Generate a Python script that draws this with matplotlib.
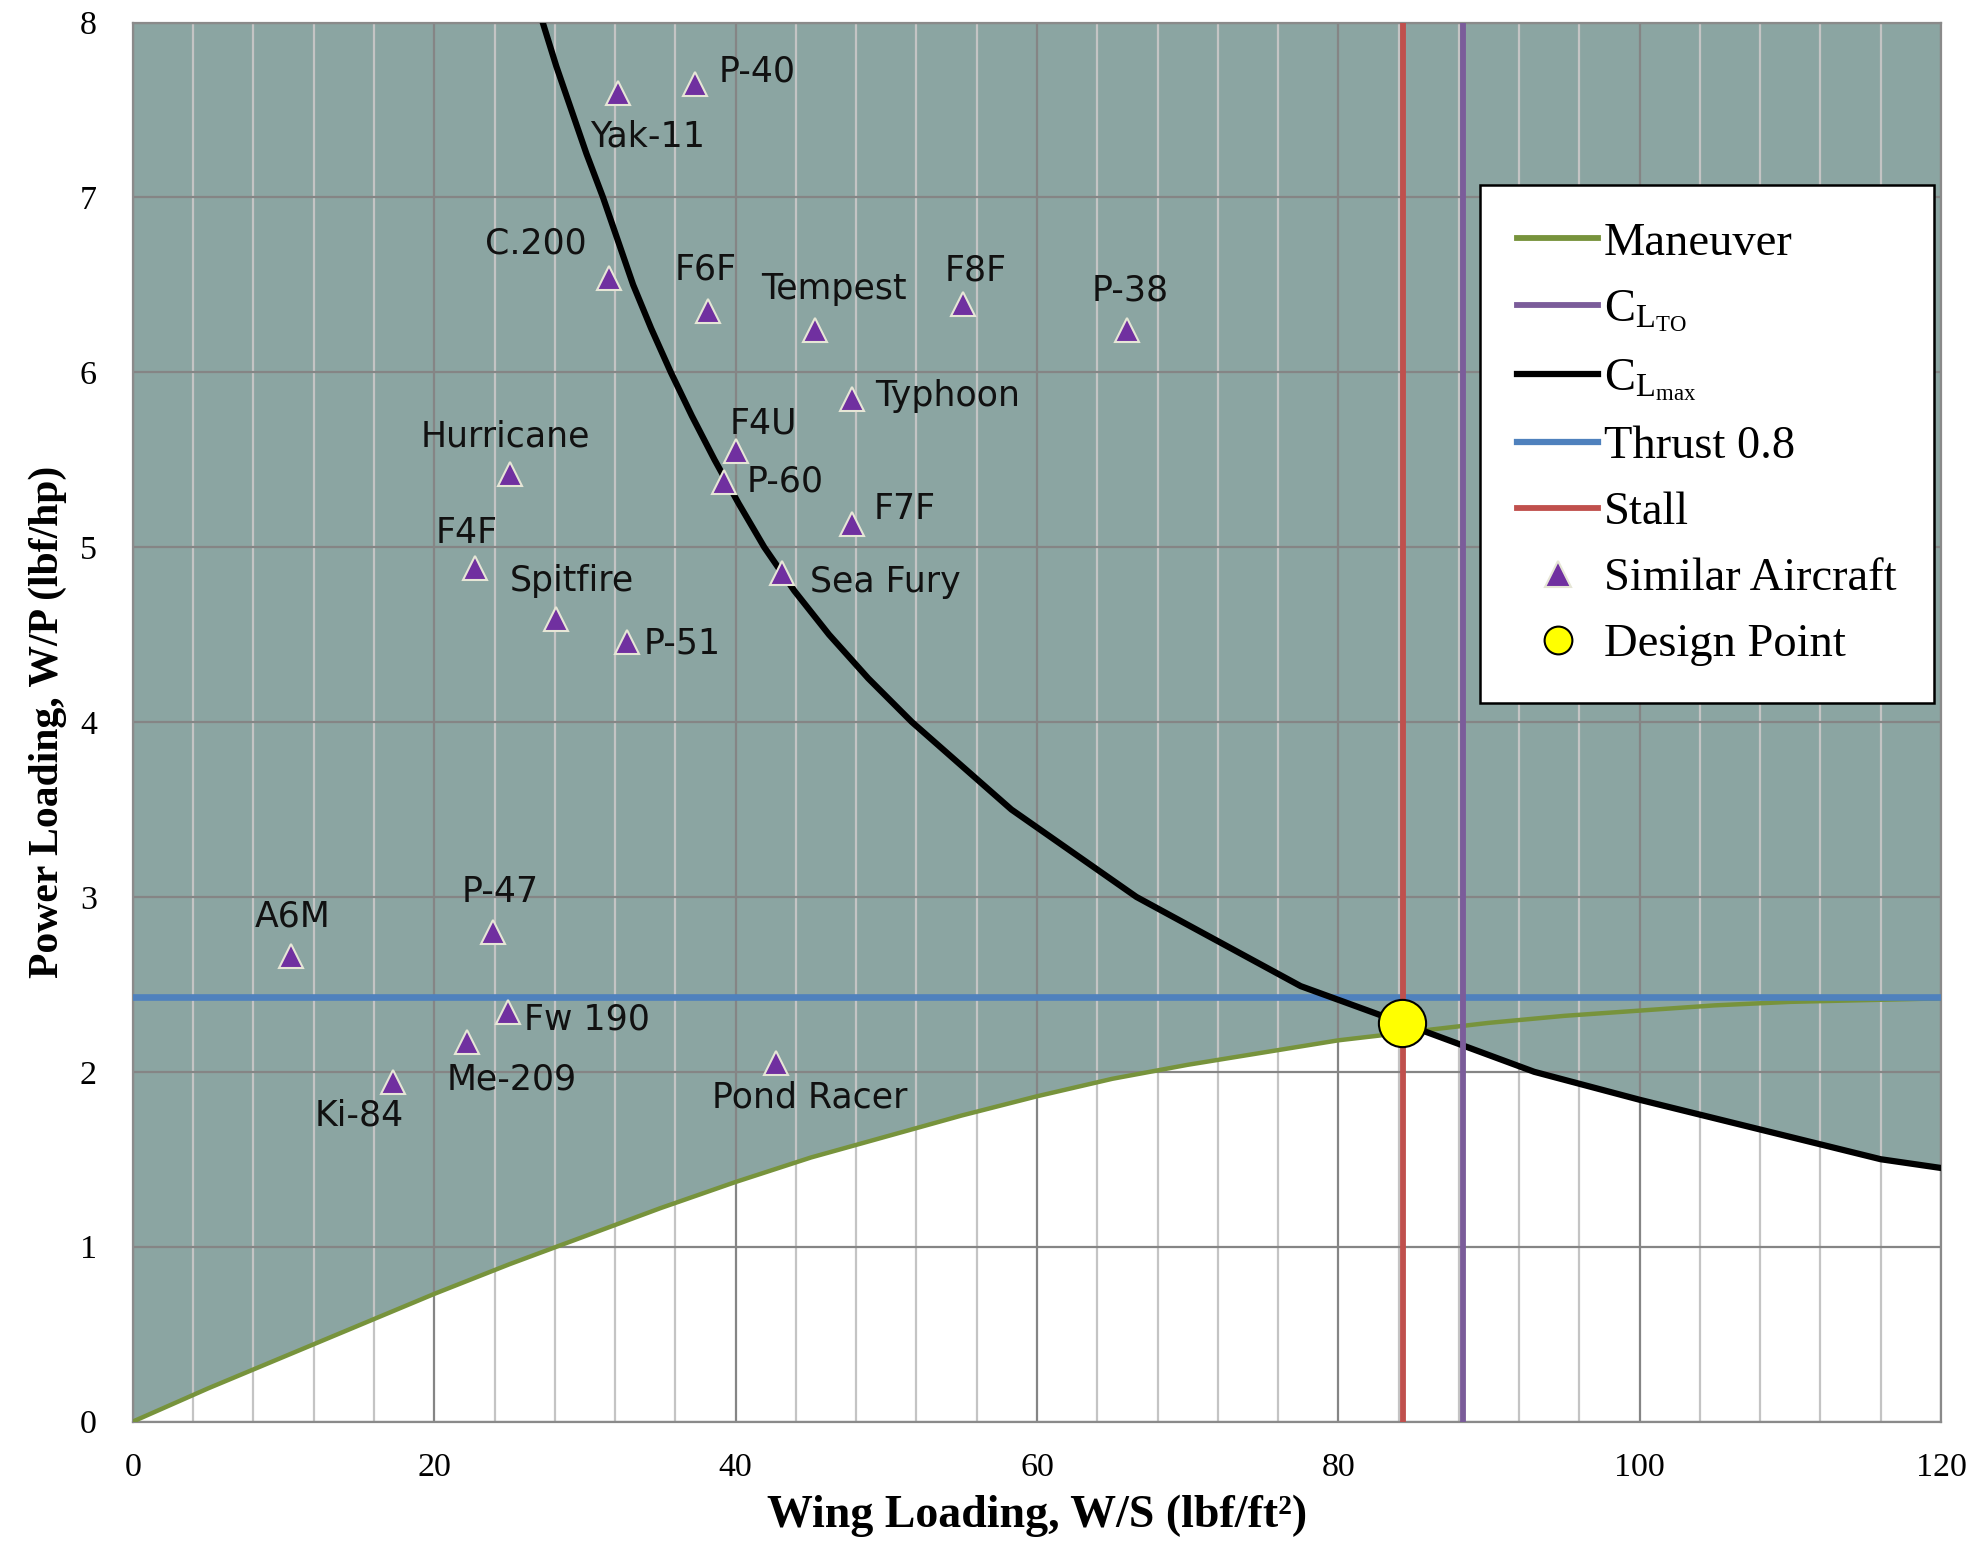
import numpy as np
from matplotlib import pyplot as plt
from matplotlib.lines import Line2D

plt.rcParams['font.family'] = ['Liberation Serif', 'DejaVu Serif']
plt.rcParams['mathtext.fontset'] = 'custom'
plt.rcParams['mathtext.rm'] = 'Liberation Serif'
plt.rcParams['mathtext.it'] = 'Liberation Serif:italic'
plt.rcParams['mathtext.bf'] = 'Liberation Serif:bold'

# constraint curves
man_ws = [0, 5, 10, 15, 20, 25, 30, 35, 40, 45, 50, 55, 60, 65, 70, 75, 80, 85, 90, 95, 100, 105, 110, 115, 120]
man_wp = [0, 0.19, 0.37, 0.55, 0.73, 0.90, 1.06, 1.22, 1.37, 1.51, 1.63, 1.75, 1.86, 1.96, 2.04, 2.11, 2.18,
          2.23, 2.28, 2.32, 2.35, 2.38, 2.40, 2.41, 2.42]

clmax_ws = [27.2, 28.1, 29.1, 30.1, 31.2, 32.2, 33.2, 34.4, 35.7, 37.1, 38.6, 40.2, 41.9, 43.9, 46.2, 48.8, 51.7,
            58.3, 66.6, 77.5, 84.2, 93.0, 100.0, 108.0, 116.0, 120.0]
clmax_wp = [8.0, 7.75, 7.5, 7.25, 7.0, 6.75, 6.5, 6.25, 6.0, 5.75, 5.5, 5.25, 5.0, 4.75, 4.5, 4.25, 4.0,
            3.5, 3.0, 2.49, 2.28, 2.0, 1.84, 1.67, 1.50, 1.45]

thrust_wp = 2.43
stall_ws = 84.3
clto_ws = 88.3

design_ws = 84.2
design_wp = 2.28

# similar aircraft
names = ["Yak-11", "P-40", "C.200", "F6F", "Tempest", "F8F", "P-38", "Typhoon", "F4U", "Hurricane", "P-60",
         "F7F", "F4F", "Sea Fury", "Spitfire", "P-51", "A6M", "P-47", "Fw 190", "Me-209", "Ki-84", "Pond Racer"]
ac_ws = [32.2, 37.3, 31.6, 38.2, 45.25, 55.1, 66.0, 47.7, 40.0, 25.0, 39.2,
         47.7, 22.7, 43.1, 28.1, 32.8, 10.5, 23.9, 24.9, 22.2, 17.25, 42.7]
ac_wp = [7.60, 7.65, 6.54, 6.35, 6.24, 6.39, 6.24, 5.85, 5.55, 5.42, 5.37,
         5.13, 4.88, 4.85, 4.59, 4.46, 2.66, 2.80, 2.34, 2.17, 1.94, 2.05]

# label offsets (points) from each marker
offsets = {"Yak-11": (21, -32), "P-40": (45, 9), "C.200": (-53, 25), "F6F": (-2, 30), "Tempest": (14, 30),
           "F8F": (9, 24), "P-38": (2, 29), "Typhoon": (69, 2), "F4U": (20, 20), "Hurricane": (-3, 27),
           "P-60": (44, 1), "F7F": (38, 11), "F4F": (-6, 25), "Sea Fury": (74, -6), "Spitfire": (11, 27),
           "P-51": (40, -1), "A6M": (1, 29), "P-47": (5, 29), "Fw 190": (57, -5), "Me-209": (32, -27),
           "Ki-84": (-24, -24), "Pond Racer": (24, -25)}

teal = '#8BA5A2'
c_man, c_clto, c_clmax, c_thr, c_stall = '#77933C', '#7B5C9A', 'black', '#4F81BD', '#C0504D'

fig, ax = plt.subplots(figsize=(19.69, 15.45), dpi=100)
fig.subplots_adjust(left=0.0675, right=0.9858, bottom=0.0799, top=0.9854)

# shaded region: above the lower of the two curves
xs = np.linspace(0, 120, 1201)
low = np.minimum(np.interp(xs, man_ws, man_wp), np.interp(xs, clmax_ws, clmax_wp, left=1e9))
ax.fill_between(xs, low, 8, color=teal, linewidth=0, zorder=0.2)

ax.plot(man_ws, man_wp, color=c_man, lw=3.2, zorder=3)
ax.plot([clto_ws, clto_ws], [0, 8], color=c_clto, lw=4.2, zorder=3.4)
ax.plot(clmax_ws, clmax_wp, color=c_clmax, lw=4.5, zorder=3.2, solid_joinstyle='round')
ax.plot([0, 120], [thrust_wp, thrust_wp], color=c_thr, lw=4.8, zorder=3.1)
ax.plot([stall_ws, stall_ws], [0, 8], color=c_stall, lw=4.2, zorder=3.3)
ax.plot(ac_ws, ac_wp, '^', ms=17, mfc='#7030A0', mec='#E6E6D6', mew=1.5, ls='none', zorder=4)
ax.plot([design_ws], [design_wp], 'o', ms=34, mfc='#FFFF00', mec='black', mew=1.5, ls='none', zorder=5)

for n, x, y in zip(names, ac_ws, ac_wp):
    ax.annotate(n, (x, y), xytext=offsets[n], textcoords='offset points', ha='center', va='center',
                fontsize=25, family='DejaVu Sans', color='#111111', zorder=6)

ax.set_xlim(0, 120)
ax.set_ylim(0, 8)
ax.set_xticks(range(0, 121, 20))
ax.set_xticks(range(0, 121, 4), minor=True)
ax.set_yticks(range(0, 9))
ax.set_axisbelow(True)
ax.grid(which='major', color='#858585', lw=1.6)
ax.grid(which='minor', axis='x', color='#C4C4C4', lw=1.6)
ax.tick_params(which='both', length=0, labelsize=24.5)
ax.tick_params(axis='y', pad=26)
ax.tick_params(axis='x', pad=22)
for s in ax.spines.values():
    s.set_color('#8A8A8A')
    s.set_linewidth(1.6)

ax.set_xlabel('Wing Loading, W/S (lbf/ft²)', fontsize=33, fontweight='bold')
ax.set_ylabel('Power Loading, W/P (lbf/hp)', fontsize=30, fontweight='bold')
ax.xaxis.set_label_coords(0.5, -0.052)
ax.yaxis.set_label_coords(-0.0365, 0.5)

handles = [
    Line2D([], [], color=c_man, lw=4.2),
    Line2D([], [], color=c_clto, lw=4.2),
    Line2D([], [], color=c_clmax, lw=4.5),
    Line2D([], [], color=c_thr, lw=4.5),
    Line2D([], [], color=c_stall, lw=4.2),
    Line2D([], [], marker='^', ms=19, mfc='#7030A0', mec='#E6E6D6', mew=1.5, ls='none'),
    Line2D([], [], marker='o', ms=20, mfc='#FFFF00', mec='black', mew=1.5, ls='none'),
]
labels = ['Maneuver', r'$\mathrm{C_{L_{TO}}}$', r'$\mathrm{C_{L_{max}}}$', 'Thrust 0.8', 'Stall',
          'Similar Aircraft', 'Design Point']
leg = ax.legend(handles, labels, loc='upper right', bbox_to_anchor=(0.996, 0.884), borderaxespad=0,
                fontsize=33.5, frameon=True, fancybox=False, framealpha=1, edgecolor='black',
                handlelength=1.75, handletextpad=0.12, labelspacing=0.5, borderpad=0.8)
leg.get_frame().set_linewidth(1.8)

plt.savefig('out.png', dpi=100)
